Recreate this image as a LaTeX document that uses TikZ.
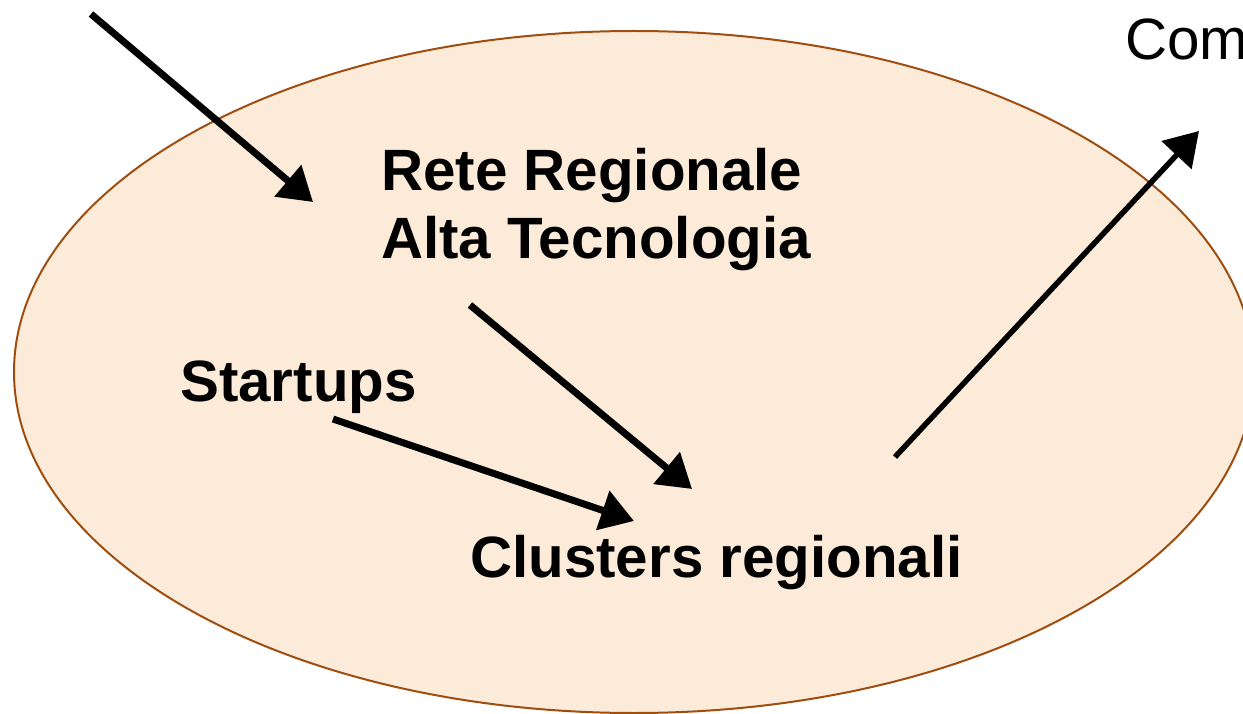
\documentclass[tikz,border=0pt]{standalone}
\usepackage{fontspec}
\setmainfont{Liberation Sans}
\usetikzlibrary{arrows.meta,shapes.geometric}
\definecolor{peach}{HTML}{FDEBDA}
\definecolor{rim}{HTML}{9E4E10}
\tikzset{
  lbl/.style={inner sep=0pt, anchor=base west, font=\fontsize{58.3}{68}\selectfont\bfseries},
  plainlbl/.style={inner sep=0pt, anchor=base west, font=\fontsize{58.3}{68}\selectfont},
  flow/.style={line width=7pt, draw=black, -{Triangle[length=33pt,width=40pt]}},
  oval/.style={ellipse, draw=rim, fill=peach, line width=2pt, inner sep=0pt,
               minimum width=1240pt, minimum height=682pt}
}
\begin{document}
\begin{tikzpicture}[x=1pt,y=-1pt]
\useasboundingbox (0,0) rectangle (1243,714);
\node[oval] (region) at (634,372) {};
\node[lbl, align=left] (rete) at (381,259) {Rete Regionale\\Alta Tecnologia};
\node[lbl] (startups) at (180,401) {Startups};
\node[lbl] (clusters) at (470,577) {Clusters regionali};
\node[plainlbl] (com) at (1125,60) {Com};
\coordinate (inS) at (91,14);
\coordinate (inE) at (313,202);
\coordinate (reteS) at (470,305);
\coordinate (reteE) at (692,489);
\coordinate (startS) at (333,419);
\coordinate (startE) at (634,521);
\coordinate (outS) at (895,457);
\coordinate (outE) at (1199,131);
\draw[flow] (inS) -- (inE);
\draw[flow] (reteS) -- (reteE);
\draw[flow] (startS) -- (startE);
\draw[flow, line width=5.5pt] (outS) -- (outE);
\end{tikzpicture}
\end{document}
